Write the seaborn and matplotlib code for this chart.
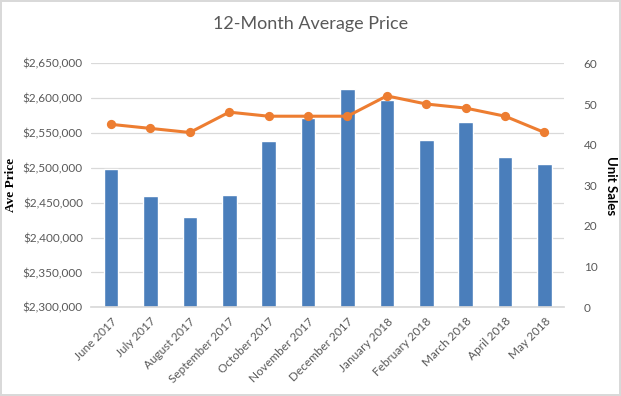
import matplotlib.pyplot as plt
import numpy as np
import pandas as pd
import seaborn as sns
from matplotlib.ticker import FuncFormatter

# ── Data ───────────────────────────────────────────────────────────────────────
months = [
    "June 2017", "July 2017", "August 2017", "September 2017", "October 2017",
    "November 2017", "December 2017", "January 2018", "February 2018",
    "March 2018", "April 2018", "May 2018",
]
ave_price = [
    2499000, 2459000, 2430000, 2461000, 2539000, 2572000,
    2613000, 2597000, 2540000, 2566000, 2515000, 2506000,
]
unit_sales = [45, 44, 43, 48, 47, 47, 47, 52, 50, 49, 47, 43]

price_ticks = [2300000, 2350000, 2400000, 2450000, 2500000, 2550000, 2600000, 2650000]
sales_ticks = [0, 10, 20, 30, 40, 50, 60]

BLUE = "#4a7ebb"
ORANGE = "#ed7d31"
GREY_TXT = "#595959"
GRID = "#d9d9d9"

df = pd.DataFrame({"month": months, "price": ave_price, "sales": unit_sales})

sns.set_theme(style="white")
plt.rcParams["font.family"] = ["Lato", "DejaVu Sans"]

fig = plt.figure(figsize=(6.21, 3.96), dpi=100)
fig.patch.set_edgecolor("#d9d9d9")
fig.patch.set_linewidth(1.5)
ax = fig.add_axes([0.147, 0.224, 0.7615, 0.616])

# ── Bars: average price (left axis) ───────────────────────────────────────────
sns.barplot(data=df, x="month", y="price", color=BLUE, saturation=1,
            width=0.37, ax=ax, zorder=2)
ax.set_ylim(price_ticks[0], price_ticks[-1])
ax.set_yticks(price_ticks)
ax.yaxis.set_major_formatter(FuncFormatter(lambda v, _: f"${v:,.0f}"))
ax.grid(axis="y", color=GRID, linewidth=0.9, zorder=0)
ax.set_axisbelow(True)
for s in ["top", "left", "right"]:
    ax.spines[s].set_visible(False)
ax.spines["bottom"].set_color(GRID)
ax.tick_params(axis="both", length=0, colors=GREY_TXT, labelsize=8.5, pad=6)
ax.set_xticks(range(len(months)))
ax.set_xticklabels(months, rotation=45, ha="right", rotation_mode="anchor")
ax.set_xlabel("")
ax.set_ylabel("Ave Price", family="Liberation Serif", fontweight="bold",
              fontsize=9.5, color="black", labelpad=4)

# ── Line: unit sales (right axis) ─────────────────────────────────────────────
ax2 = ax.twinx()
sns.pointplot(data=df, x="month", y="sales", color=ORANGE, markers="o",
              linestyles="-", linewidth=2.2, markersize=5, ax=ax2, zorder=3)
ax2.set_ylim(sales_ticks[0], sales_ticks[-1])
ax2.set_yticks(sales_ticks)
for s in ["top", "left", "right", "bottom"]:
    ax2.spines[s].set_visible(False)
ax2.tick_params(axis="y", length=0, colors=GREY_TXT, labelsize=8.5, pad=14)
ax2.set_xlabel("")
ax2.set_ylabel("Unit Sales", fontweight="bold", fontsize=9.5, color="black",
               rotation=270, labelpad=14)
ax.set_xlim(-0.5, len(months) - 0.5)
ax2.set_xlim(-0.5, len(months) - 0.5)

fig.text(0.5, 0.94, "12-Month Average Price", ha="center", va="center",
         fontsize=13, color=GREY_TXT)

fig.savefig("out.png", dpi=100, edgecolor=fig.get_edgecolor())
